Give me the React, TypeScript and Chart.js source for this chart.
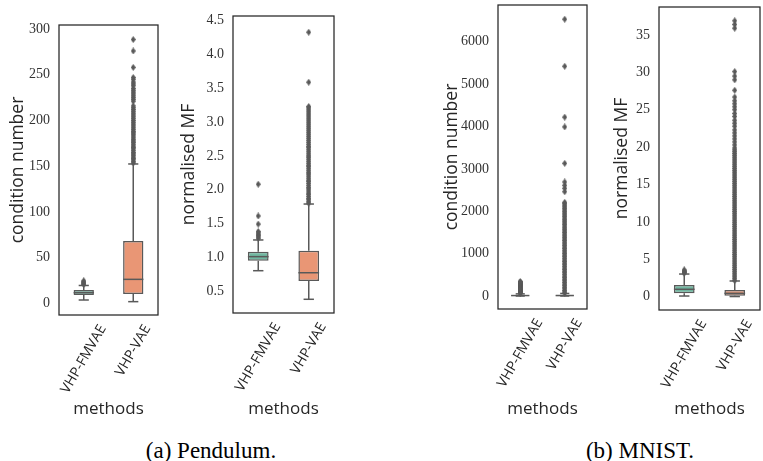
import React, { useEffect, useRef } from 'react';
import { Chart, registerables } from 'chart.js';

Chart.register(...registerables);

// ---------------- DATA ----------------
const methods = ['VHP-FMVAE', 'VHP-VAE'];

// Box summaries: [lower whisker, Q1, median, Q3, upper whisker]
// (a) Pendulum — condition number
const pendulumCondFmvae = [3.6, 9.1, 11.6, 14.5, 19.5];
const pendulumCondVae = [1.8, 10.2, 26.2, 68.1, 152.4];
const pendulumCondFmvaeOutliers = [20.5, 21.5, 22.5, 23.5, 24.5];
const pendulumCondVaeOutliers = [
  153.5, 155, 157, 158.5, 160, 162, 163.5, 165, 167, 169, 170.5, 172, 174, 176, 177.5, 179, 181, 183,
  185, 186.5, 188, 190, 192, 194, 196, 198, 200, 202, 204, 206, 208, 210, 212, 214, 216, 221, 223,
  225, 227, 229, 231, 233, 235, 238, 240, 242, 245, 247, 258, 276, 288.5,
];
const pendulumCondTicks = [0, 50, 100, 150, 200, 250, 300];
const pendulumCondRange = [-12.8, 304.4];

// (a) Pendulum — normalised MF
const pendulumMfFmvae = [0.8, 0.948, 1.008, 1.08, 1.255];
const pendulumMfVae = [0.377, 0.648, 0.77, 1.096, 1.787];
const pendulumMfFmvaeOutliers = [1.28, 1.3, 1.32, 1.34, 1.36, 1.38, 1.49, 1.61, 2.08];
const pendulumMfVaeOutliers = [
  1.8, 1.82, 1.85, 1.87, 1.9, 1.93, 1.95, 1.98, 2.01, 2.03, 2.06, 2.09, 2.12, 2.14, 2.17, 2.2, 2.23,
  2.25, 2.28, 2.31, 2.34, 2.36, 2.39, 2.42, 2.45, 2.48, 2.5, 2.53, 2.56, 2.59, 2.62, 2.64, 2.67, 2.7,
  2.73, 2.76, 2.79, 2.82, 2.85, 2.88, 2.91, 2.94, 2.97, 3.0, 3.03, 3.06, 3.09, 3.12, 3.15, 3.18, 3.21,
  3.23, 3.59, 4.33,
];
const pendulumMfTicks = [0.5, 1.0, 1.5, 2.0, 2.5, 3.0, 3.5, 4.0, 4.5];
const pendulumMfRange = [0.174, 4.57];

// (b) MNIST — condition number
const mnistCondFmvae = [0, 3, 10, 22, 50];
const mnistCondVae = [0, 4, 10, 28, 60];
const mnistCondFmvaeOutliers = [
  62, 70, 80, 90, 100, 110, 120, 131, 142, 153, 165, 176, 188, 199, 211, 222, 234, 246, 258, 270,
  282, 294, 306, 318, 330, 342,
];
const mnistCondVaeOutliers = [
  65, 95, 130, 170, 205, 245, 280, 320, 360, 395, 435, 470, 510, 550, 585, 625, 660, 700, 740, 775,
  815, 850, 890, 930, 965, 1005, 1040, 1080, 1120, 1155, 1195, 1230, 1270, 1310, 1345, 1385, 1420,
  1460, 1500, 1535, 1575, 1610, 1650, 1690, 1725, 1765, 1800, 1840, 1880, 1915, 1955, 1990, 2030,
  2070, 2105, 2145, 2180, 2210, 2460, 2540, 2610, 2690, 3130, 3990, 4220, 5420, 6530,
];
const mnistCondTicks = [0, 1000, 2000, 3000, 4000, 5000, 6000];
const mnistCondRange = [-307, 6866];

// (b) MNIST — normalised MF
const mnistMfFmvae = [0.09, 0.45, 0.99, 1.56, 3.03];
const mnistMfVae = [0.02, 0.12, 0.45, 0.9, 2.1];
const mnistMfFmvaeOutliers = [3.15, 3.25, 3.35, 3.45, 3.57];
const mnistMfVaeOutliers = [
  2.15, 2.4, 2.65, 2.9, 3.15, 3.4, 3.65, 3.9, 4.15, 4.4, 4.65, 4.9, 5.15, 5.4, 5.65, 5.9, 6.15, 6.4,
  6.65, 6.9, 7.15, 7.4, 7.65, 7.9, 8.15, 8.4, 8.65, 8.9, 9.15, 9.4, 9.65, 9.9, 10.15, 10.4, 10.65,
  10.9, 11.15, 11.4, 11.65, 11.9, 12.15, 12.4, 12.65, 12.9, 13.15, 13.4, 13.65, 13.9, 14.15, 14.4,
  14.65, 14.9, 15.15, 15.4, 15.65, 15.9, 16.15, 16.4, 16.65, 16.9, 17.15, 17.4, 17.65, 17.9, 18.15,
  18.4, 18.65, 18.9, 19.15, 19.4, 19.65, 19.9, 20.3, 20.7, 21.1, 21.5, 21.9, 22.3, 22.8, 23.2, 23.6,
  24.1, 24.5, 25.0, 25.4, 25.8, 26.2, 26.7, 27.6, 29.0, 29.5, 30.1, 35.9, 36.4, 36.9,
];
const mnistMfTicks = [0, 5, 10, 15, 20, 25, 30, 35];
const mnistMfRange = [-1.78, 38.74];

// ---------------- STYLE / LAYOUT ----------------
const GREEN = '#71b7a1';
const ORANGE = '#e99675';
const LINE = '#595959';
const FRAME = '#262626';
const TEXT = '#262626';
const SANS = '"Open Sans", "DejaVu Sans", sans-serif';
const SERIF = '"Liberation Serif", "DejaVu Serif", serif';
const CANVAS_TOP = -20;
const CANVAS_H = 445;
const XLABEL_Y = 409;

type Panel = {
  key: string;
  left: number;
  width: number;
  frame: { l: number; r: number; t: number; b: number };
  titleX: number;
  title: string;
  boxes: number[][];
  outliers: number[][];
  ticks: number[];
  range: number[];
  fmt: (v: number) => string;
};

const intFmt = (v: number) => String(Math.round(v));
const oneDec = (v: number) => v.toFixed(1);

const panels: Panel[] = [
  {
    key: 'p1', left: 0, width: 175, frame: { l: 59, r: 158, t: 25, b: 315 }, titleX: 18,
    title: 'condition number', boxes: [pendulumCondFmvae, pendulumCondVae],
    outliers: [pendulumCondFmvaeOutliers, pendulumCondVaeOutliers],
    ticks: pendulumCondTicks, range: pendulumCondRange, fmt: intFmt,
  },
  {
    key: 'p2', left: 175, width: 175, frame: { l: 233, r: 334, t: 16, b: 313 }, titleX: 189,
    title: 'normalised MF', boxes: [pendulumMfFmvae, pendulumMfVae],
    outliers: [pendulumMfFmvaeOutliers, pendulumMfVaeOutliers],
    ticks: pendulumMfTicks, range: pendulumMfRange, fmt: oneDec,
  },
  {
    key: 'p3', left: 420, width: 170, frame: { l: 498, r: 587, t: 5, b: 309 }, titleX: 452,
    title: 'condition number', boxes: [mnistCondFmvae, mnistCondVae],
    outliers: [mnistCondFmvaeOutliers, mnistCondVaeOutliers],
    ticks: mnistCondTicks, range: mnistCondRange, fmt: intFmt,
  },
  {
    key: 'p4', left: 590, width: 173, frame: { l: 659, r: 762, t: 7, b: 310 }, titleX: 622,
    title: 'normalised MF', boxes: [mnistMfFmvae, mnistMfVae],
    outliers: [mnistMfFmvaeOutliers, mnistMfVaeOutliers],
    ticks: mnistMfTicks, range: mnistMfRange, fmt: intFmt,
  },
];

function makeDiamond(): HTMLCanvasElement {
  const w = 5, h = 7;
  const c = document.createElement('canvas');
  c.width = w;
  c.height = h;
  const g = c.getContext('2d')!;
  g.fillStyle = LINE;
  g.beginPath();
  g.moveTo(w / 2, 0);
  g.lineTo(w, h / 2);
  g.lineTo(w / 2, h);
  g.lineTo(0, h / 2);
  g.closePath();
  g.fill();
  return c;
}

function seg(ctx: CanvasRenderingContext2D, x1: number, y1: number, x2: number, y2: number) {
  ctx.beginPath();
  ctx.moveTo(x1, y1);
  ctx.lineTo(x2, y2);
  ctx.stroke();
}

function decor(p: Panel) {
  return {
    id: 'decor_' + p.key,
    afterDatasetsDraw(chart: any) {
      const { ctx } = chart;
      const xs = chart.scales.x;
      const ys = chart.scales.y;
      const meta = chart.getDatasetMeta(0);
      ctx.save();
      ctx.strokeStyle = LINE;
      ctx.lineWidth = 1.5;
      p.boxes.forEach((b, i) => {
        const cx = xs.getPixelForValue(i);
        const bw = meta.data[i].width;
        const cap = bw / 4;
        const Y = (v: number) => ys.getPixelForValue(v);
        seg(ctx, cx, Y(b[1]), cx, Y(b[0]));
        seg(ctx, cx, Y(b[3]), cx, Y(b[4]));
        seg(ctx, cx - cap, Y(b[0]), cx + cap, Y(b[0]));
        seg(ctx, cx - cap, Y(b[4]), cx + cap, Y(b[4]));
        seg(ctx, cx - bw / 2, Y(b[2]), cx + bw / 2, Y(b[2]));
      });
      ctx.restore();
    },
    afterDraw(chart: any) {
      const { ctx, chartArea: a } = chart;
      const xs = chart.scales.x;
      ctx.save();
      // frame
      ctx.strokeStyle = FRAME;
      ctx.lineWidth = 1.25;
      ctx.strokeRect(a.left, a.top, a.right - a.left, a.bottom - a.top);
      // rotated category labels
      ctx.fillStyle = TEXT;
      const fs = 14;
      ctx.font = `${fs}px ${SANS}`;
      ctx.textAlign = 'center';
      ctx.textBaseline = 'middle';
      const ang = Math.PI / 3;
      methods.forEach((lab, i) => {
        const cx = xs.getPixelForValue(i);
        const w = ctx.measureText(lab).width;
        const h = fs * 1.15;
        const cy = a.bottom + 7 + (w / 2) * Math.sin(ang) + (h / 2) * Math.cos(ang);
        ctx.save();
        ctx.translate(cx, cy);
        ctx.rotate(-ang);
        ctx.fillText(lab, 0, 0);
        ctx.restore();
      });
      // axis titles
      ctx.font = `17px ${SANS}`;
      ctx.fillText('methods', (a.left + a.right) / 2, XLABEL_Y - CANVAS_TOP);
      ctx.font = `17.5px ${SANS}`;
      ctx.save();
      ctx.translate(p.titleX - p.left, (a.top + a.bottom) / 2);
      ctx.rotate(-Math.PI / 2);
      ctx.fillText(p.title, 0, 0);
      ctx.restore();
      ctx.restore();
    },
  };
}

function buildConfig(p: Panel, diamond: HTMLCanvasElement): any {
  const yW = p.frame.l - p.left;
  const xH = CANVAS_H + CANVAS_TOP - p.frame.b;
  return {
    type: 'bar',
    data: {
      labels: methods,
      datasets: [
        {
          type: 'bar',
          data: p.boxes.map((b) => [b[1], b[3]]),
          backgroundColor: [GREEN, ORANGE],
          borderColor: LINE,
          borderWidth: 1.5,
          borderSkipped: false,
          barPercentage: 0.41,
          categoryPercentage: 1,
        },
        {
          type: 'scatter',
          data: p.outliers.flatMap((arr, i) => arr.map((v) => ({ x: methods[i], y: v }))),
          pointStyle: diamond,
          pointRadius: 3,
          pointHoverRadius: 3,
          backgroundColor: LINE,
          borderColor: LINE,
          borderWidth: 0,
        },
      ],
    },
    options: {
      responsive: false,
      animation: false,
      events: [],
      layout: {
        padding: { top: p.frame.t - CANVAS_TOP, right: p.left + p.width - p.frame.r, bottom: 0, left: 0 },
      },
      plugins: { legend: { display: false }, tooltip: { enabled: false } },
      scales: {
        x: {
          type: 'category',
          offset: true,
          grid: { display: false, drawTicks: false },
          border: { display: false },
          ticks: { display: false },
          afterFit: (s: any) => {
            s.height = xH;
          },
        },
        y: {
          type: 'linear',
          min: p.range[0],
          max: p.range[1],
          grid: { display: false, drawTicks: false },
          border: { display: false },
          ticks: {
            padding: 9,
            color: '#333333',
            autoSkip: false,
            font: { family: SERIF, size: 14 },
            callback: (v: number) => p.fmt(v),
          },
          afterBuildTicks: (s: any) => {
            s.ticks = p.ticks.map((v) => ({ value: v }));
          },
          afterFit: (s: any) => {
            s.width = yW;
          },
        },
      },
    },
    plugins: [decor(p)],
  };
}

function PanelChart({ p }: { p: Panel }) {
  const ref = useRef<HTMLCanvasElement>(null);
  useEffect(() => {
    const chart = new Chart(ref.current!, buildConfig(p, makeDiamond()));
    return () => chart.destroy();
  }, [p]);
  return (
    <canvas
      ref={ref}
      width={p.width}
      height={CANVAS_H}
      style={{ position: 'absolute', left: p.left, top: CANVAS_TOP, width: p.width, height: CANVAS_H }}
    />
  );
}

const captionStyle = (cx: number): React.CSSProperties => ({
  position: 'absolute',
  left: cx - 120,
  width: 240,
  top: 437,
  textAlign: 'center',
  fontFamily: SERIF,
  fontSize: 23,
  lineHeight: '27px',
  color: '#000',
});

export default function App() {
  return (
    <div
      style={{
        position: 'fixed',
        left: 0,
        top: 0,
        width: 763,
        height: 461,
        background: '#fff',
        overflow: 'hidden',
      }}
    >
      {panels.map((p) => (
        <PanelChart key={p.key} p={p} />
      ))}
      <div style={captionStyle(211)}>(a) Pendulum.</div>
      <div style={captionStyle(640)}>(b) MNIST.</div>
    </div>
  );
}
